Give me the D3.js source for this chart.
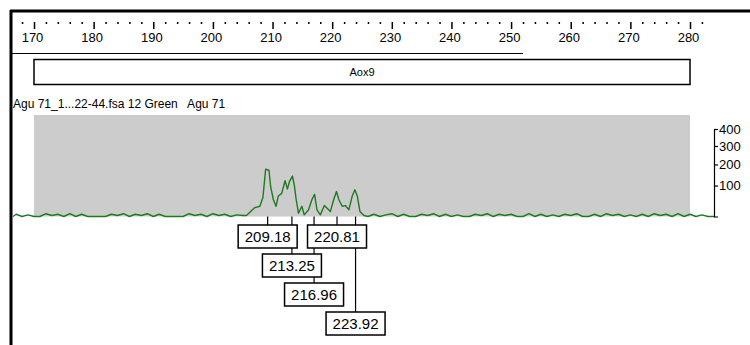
<!DOCTYPE html>
<html>
<head>
<meta charset="utf-8">
<script src="https://cdn.jsdelivr.net/npm/d3@7"></script>
<style>
  body { margin: 0; background: #fff; }
  svg { display: block; font-family: "Liberation Sans", Arial, sans-serif; }
</style>
</head>
<body>
<svg id="chart" width="750" height="345"></svg>
<script>
// size ruler (bp)
const sizeTicks = [170, 180, 190, 200, 210, 220, 230, 240, 250, 260, 270, 280];
const markerName = "Aox9";
const sampleLabel = "Agu 71_1...22-44.fsa 12 Green   Agu 71";
// intensity axis (RFU)
const rfuTicks = [100, 200, 300, 400];

// green trace: size (bp) / intensity (RFU)
const traceSize = [
  166.5, 167, 168, 169, 170, 171, 172, 173, 174, 175, 176, 177, 178, 179, 180, 181, 182,
  183, 184, 185, 186, 187, 188, 189, 190, 191, 192, 193, 194, 195, 196, 197, 198, 199,
  200, 201, 202, 203, 204, 205,
  205.63, 207.03, 207.88, 208.39, 208.84, 209.40, 209.69, 210.13, 210.58, 210.97, 211.54,
  212.10, 212.49, 212.83, 213.34, 213.67, 213.96, 214.35, 214.92, 215.31, 216.04, 216.61,
  217.05, 217.45, 218.01, 218.69, 219.15, 219.70, 220.26, 220.72, 221.11, 221.68, 222.24,
  222.79, 223.37, 223.81, 224.21, 224.65, 225.33,
  226, 227, 228, 229, 230, 231, 232, 233, 234, 235, 236, 237, 238, 239, 240, 241, 242,
  243, 244, 245, 246, 247, 248, 249, 250, 251, 252, 253, 254, 255, 256, 257, 258, 259,
  260, 261, 262, 263, 264, 265, 266, 267, 268, 269, 270, 271, 272, 273, 274, 275, 276,
  277, 278, 279, 280, 281, 282, 283, 284.2
];
const traceRfu = [
  0, 3, 0, 2, 0, 0, 4, 1, 3, 0, 4, 0, 3, 0, 0, 0, 0,
  3, 1, 4, 0, 3, 1, 4, 0, 3, 0, 0, 0, 0, 4, 1, 3, 0,
  4, 1, 3, 0, 2, 1,
  1, 19, 23, 53, 176, 171, 94, 45, 23, 58, 68,
  122, 85, 117, 143, 99, 45, 5, 23, 2, 13, 45,
  64, 13, 2, 25, 17, 9, 45, 75, 45, 23, 25,
  13, 58, 82, 58, 9, 1,
  0, 3, 0, 2, 4, 0, 3, 0, 0, 3, 1, 4, 0, 3, 0, 2, 0,
  0, 3, 1, 4, 0, 3, 1, 3, 0, 0, 4, 0, 3, 0, 2, 0, 3,
  1, 4, 0, 0, 3, 0, 4, 1, 3, 0, 2, 0, 3, 0, 4, 1, 3,
  0, 4, 0, 3, 0, 2, 0, 0
];

// called peaks
const peakSizes = [209.18, 213.25, 216.96, 220.81, 223.92];

const svg = d3.select("#chart");

const x = d3.scaleLinear().domain([170, 280]).range([34, 690]);
const y = d3.scalePow().exponent(0.75).domain([0, 400]).range([216.5, 129]);

// frame
svg.append("line").attr("x1", 10).attr("x2", 750).attr("y1", 11).attr("y2", 11)
  .attr("stroke", "#000").attr("stroke-width", 3);
svg.append("line").attr("x1", 11).attr("x2", 11).attr("y1", 10).attr("y2", 345)
  .attr("stroke", "#000").attr("stroke-width", 3);
svg.append("line").attr("x1", 12).attr("x2", 523).attr("y1", 53.5).attr("y2", 53.5)
  .attr("stroke", "#000").attr("stroke-width", 1);

// size ruler
const minorTicks = d3.range(168, 284, 2).filter(v => v % 10 !== 0);
svg.append("g")
  .attr("transform", "translate(0,22)")
  .call(d3.axisBottom(x).tickValues(minorTicks).tickSize(2).tickFormat(""))
  .call(g => g.select(".domain").remove());
svg.append("g")
  .attr("class", "ruler")
  .attr("transform", "translate(0,22)")
  .call(d3.axisBottom(x).tickValues(sizeTicks).tickSize(7).tickPadding(4).tickFormat(d3.format("d")))
  .call(g => g.select(".domain").remove())
  .call(g => g.selectAll("text")
    .attr("dx", -2)
    .style("font-family", "'Liberation Sans Narrow', 'Liberation Sans', sans-serif")
    .style("font-size", "13px")
    .attr("fill", "#000"));
svg.selectAll(".tick line").attr("stroke", "#000").attr("stroke-width", 1.5);

// marker bin box
svg.append("rect")
  .attr("x", x(170)).attr("y", 59.5)
  .attr("width", x(280) - x(170)).attr("height", 25)
  .attr("fill", "#fff").attr("stroke", "#000").attr("stroke-width", 1.5);
svg.append("text")
  .attr("x", (x(170) + x(280)) / 2).attr("y", 76)
  .attr("text-anchor", "middle")
  .style("font-size", "11px")
  .text(markerName);

// sample label
svg.append("text")
  .attr("x", 13).attr("y", 108)
  .style("font-size", "12px")
  .style("white-space", "pre")
  .attr("xml:space", "preserve")
  .text(sampleLabel);

// plot background
svg.append("rect")
  .attr("x", x(170)).attr("y", 115)
  .attr("width", x(280) - x(170)).attr("height", y(0) - 115)
  .attr("fill", "#cccccc");

// trace
const trace = d3.zip(traceSize, traceRfu);
svg.append("path")
  .datum(trace)
  .attr("fill", "none")
  .attr("stroke", "#1d7a1d")
  .attr("stroke-width", 1.4)
  .attr("stroke-linejoin", "round")
  .attr("d", d3.line().x(d => x(d[0])).y(d => y(d[1])));

// intensity axis
svg.append("g")
  .attr("transform", "translate(714,0)")
  .call(d3.axisRight(y).tickValues(rfuTicks).tickSize(4).tickSizeOuter(4).tickPadding(1)
    .tickFormat(d3.format("d")))
  .call(g => g.selectAll("path, line").attr("stroke", "#000").attr("stroke-width", 1.2))
  .call(g => g.selectAll("text")
    .style("font-family", "'Liberation Sans Narrow', 'Liberation Sans', sans-serif")
    .style("font-size", "13px")
    .attr("fill", "#000"));

// peak labels: first row if free, otherwise below the deepest row used so far
const boxW = 59, boxH = 23, rowTop = 225, rowStep = 29;
const placed = [];
let deepest = 0;
peakSizes.forEach(s => {
  const cx = x(s);
  const free = placed.filter(p => p.row === 0).every(p => Math.abs(p.cx - cx) >= boxW);
  const row = free ? 0 : deepest + 1;
  deepest = Math.max(deepest, row);
  placed.push({ s, cx, row });
});

const peaks = svg.append("g");
peaks.selectAll("line")
  .data(placed)
  .join("line")
  .attr("x1", d => d.cx).attr("x2", d => d.cx)
  .attr("y1", y(0)).attr("y2", d => rowTop + d.row * rowStep)
  .attr("stroke", "#000").attr("stroke-width", 1.2);
const box = peaks.selectAll("g.box")
  .data(placed)
  .join("g")
  .attr("class", "box")
  .attr("transform", d => `translate(${d.cx - boxW / 2},${rowTop + d.row * rowStep})`);
box.append("rect")
  .attr("width", boxW).attr("height", boxH)
  .attr("fill", "#fff").attr("stroke", "#000").attr("stroke-width", 1.5);
box.append("text")
  .attr("x", boxW / 2).attr("y", 17)
  .attr("text-anchor", "middle")
  .style("font-size", "15px")
  .text(d => d3.format(".2f")(d.s));
</script>
</body>
</html>
